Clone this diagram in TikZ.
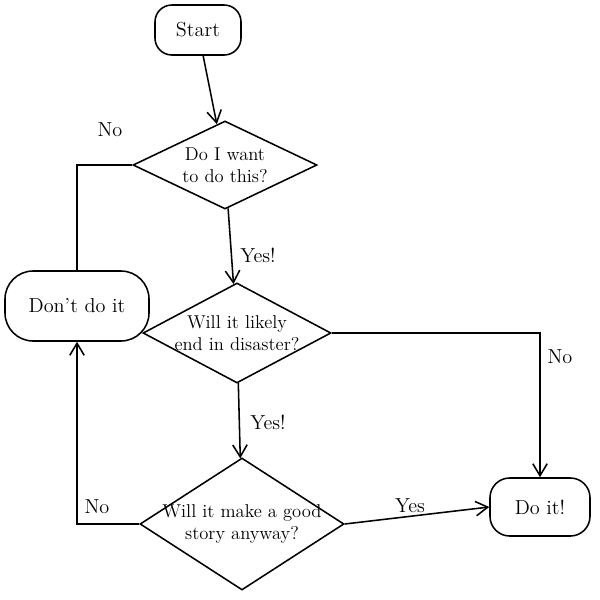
\documentclass[tikz,border=0pt]{standalone}
\usetikzlibrary{shapes.geometric,arrows.meta}
\begin{document}
\begin{tikzpicture}[x=0.025cm,y=-0.025cm,
  line width=1.1pt,
  termbox/.style={draw,rounded corners=12pt,align=center,inner sep=0pt,font=\Large},
  decision/.style={draw,diamond,inner sep=0pt},
  qtext/.style={align=center,font=\fontsize{13.2}{15.5}\selectfont,inner sep=0pt},
  flow/.style={-{Straight Barb[length=3mm,width=3.6mm]}},
  lbl/.style={font=\Large}]
\useasboundingbox (0,0) rectangle (600,600);

% terminals
\node[termbox,minimum width=2.15cm,minimum height=1.25cm] (start) at (198,30) {Start};
\node[termbox,rounded corners=20pt,minimum width=3.6cm,minimum height=1.75cm] (dont) at (77,306) {Don't do it};
\node[termbox,rounded corners=14pt,minimum width=2.5cm,minimum height=1.45cm] (doit) at (540,507) {Do it!};

% decisions: outline first, question text on top
\node[decision,minimum width=4.6cm,minimum height=2.2cm] (d1) at (225,165) {};
\node[qtext] (d1t) at (d1.center) {Do I want\\to do this?};
\node[decision,minimum width=4.7cm,minimum height=2.5cm] (d2) at (237,333) {};
\node[qtext] (d2t) at (d2.center) {Will it likely\\end in disaster?};
\node[decision,minimum width=5.1cm,minimum height=3.3cm] (d3) at (242,524) {};
\node[qtext] (d3t) at (d3.center) {Will it make a good\\story anyway?};

% connectors
\draw[flow] (start) -- (d1);
\draw (d1.west) -| (dont.north);
\draw[flow] (d1) -- (d2);
\draw[flow] (d2.east) -| (doit.north);
\draw[flow] (d2) -- (d3);
\draw[flow] (d3.east) -- (doit.west);
\draw[flow] (d3.west) -| (dont.south);

% branch labels
\node[lbl] (l1) at (110,130) {No};
\node[lbl] (l2) at (258,255) {Yes!};
\node[lbl] (l3) at (560,357) {No};
\node[lbl] (l4) at (268,422) {Yes!};
\node[lbl] (l5) at (410,506) {Yes};
\node[lbl] (l6) at (97,507) {No};
\end{tikzpicture}
\end{document}
